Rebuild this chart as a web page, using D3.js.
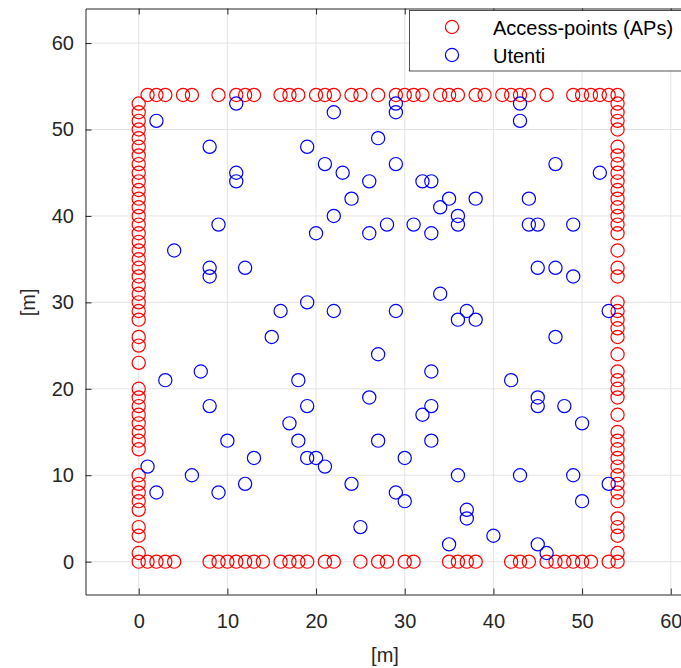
<!DOCTYPE html>
<html>
<head>
<meta charset="utf-8">
<script src="https://cdn.jsdelivr.net/npm/d3@7"></script>
<style>
  html, body { margin: 0; padding: 0; background: #ffffff; }
  svg { display: block; }
  text { font-family: "Liberation Sans", Arial, Helvetica, sans-serif; }
</style>
</head>
<body>
<script>
// Access points placed on the perimeter of the 54 m x 54 m area
const apTopX = [1, 2, 3, 5, 6, 9, 11, 12, 13, 16, 17, 18, 20, 21, 22, 24, 25, 27, 29, 30, 31, 32, 34, 35, 36, 38, 39, 41, 42, 43, 44, 46, 49, 50, 51, 52, 53, 54];
const apBottomX = [0, 1, 2, 3, 4, 8, 9, 10, 11, 12, 13, 14, 16, 17, 18, 19, 21, 22, 25, 27, 28, 30, 31, 35, 36, 37, 38, 42, 43, 44, 46, 47, 48, 49, 50, 51, 53, 54];
const apLeftY = [1, 3, 4, 6, 7, 8, 9, 10, 13, 14, 15, 16, 17, 18, 19, 20, 23, 25, 26, 28, 29, 30, 31, 32, 33, 34, 35, 36, 37, 38, 39, 40, 41, 42, 43, 44, 45, 46, 47, 48, 49, 50, 51, 52, 53];
const apRightY = [1, 3, 4, 5, 7, 8, 9, 10, 11, 12, 13, 14, 15, 17, 19, 20, 21, 22, 24, 26, 27, 28, 29, 30, 33, 34, 36, 38, 39, 40, 41, 42, 43, 44, 45, 46, 47, 48, 50, 51, 52, 53];
const sideLength = 54;

// Users (Utenti) inside the area
const userX = [2, 11, 22, 29, 29, 43, 43, 8, 19, 27, 21, 23, 26, 29, 47, 52, 11, 11, 32, 33,
               24, 22, 20, 26, 28, 31, 33, 34, 35, 36, 36, 38, 44, 44, 45, 49, 9, 4, 8, 8,
               12, 45, 47, 49, 34, 19, 16, 22, 29, 37, 36, 38, 53, 15, 47, 27, 7, 33, 3, 18,
               42, 26, 45, 8, 19, 33, 45, 48, 32, 17, 50, 10, 18, 27, 33, 13, 19, 20, 30, 1,
               21, 6, 36, 43, 49, 12, 24, 53, 2, 9, 29, 30, 50, 37, 37, 25, 40, 35, 45, 46];
const userY = [51, 53, 52, 53, 52, 53, 51, 48, 48, 49, 46, 45, 44, 46, 46, 45, 45, 44, 44, 44,
               42, 40, 38, 38, 39, 39, 38, 41, 42, 40, 39, 42, 42, 39, 39, 39, 39, 36, 34, 33,
               34, 34, 34, 33, 31, 30, 29, 29, 29, 29, 28, 28, 29, 26, 26, 24, 22, 22, 21, 21,
               21, 19, 19, 18, 18, 18, 18, 18, 17, 16, 16, 14, 14, 14, 14, 12, 12, 12, 12, 11,
               11, 10, 10, 10, 10, 9, 9, 9, 8, 8, 8, 7, 7, 6, 5, 4, 3, 2, 2, 1];

const xTicks = [0, 10, 20, 30, 40, 50, 60];
const yTicks = [0, 10, 20, 30, 40, 50, 60];
const seriesNames = ["Access-points (APs)", "Utenti"];
const axisLabel = "[m]";

const W = 681, H = 668;
const axisColor = "#262626";
const gridColor = "#e3e3e3";
const apColor = "#ff0000";
const userColor = "#0000ff";
const markerR = 6.6;

const plotLeft = 85.5, plotRight = 688.5, plotTop = 8.5, plotBottom = 594.5;
const x = d3.scaleLinear().domain([-6, 62]).range([plotLeft, plotRight]);
const y = d3.scaleLinear().domain([-3.8, 64]).range([plotBottom, plotTop]);

const svg = d3.select("body").append("svg")
  .attr("width", W).attr("height", H)
  .attr("viewBox", `0 0 ${W} ${H}`);

svg.append("rect").attr("width", W).attr("height", H).attr("fill", "#ffffff");

// grid
const grid = svg.append("g");
grid.selectAll("line.gx").data(xTicks).join("line")
  .attr("class", "gx")
  .attr("x1", d => x(d)).attr("x2", d => x(d))
  .attr("y1", plotTop).attr("y2", plotBottom)
  .attr("stroke", gridColor).attr("stroke-width", 1);
grid.selectAll("line.gy").data(yTicks).join("line")
  .attr("class", "gy")
  .attr("y1", d => y(d)).attr("y2", d => y(d))
  .attr("x1", plotLeft).attr("x2", plotRight)
  .attr("stroke", gridColor).attr("stroke-width", 1);

// axes with inward ticks on all four sides
function styleAxis(g, showLabels) {
  g.select(".domain").attr("stroke", axisColor).attr("stroke-width", 1);
  g.selectAll(".tick line").attr("stroke", axisColor).attr("stroke-width", 1);
  g.selectAll(".tick text")
    .attr("fill", axisColor)
    .style("font-size", "20px")
    .style("font-family", '"Liberation Sans", Arial, sans-serif')
    .attr("display", showLabels ? null : "none");
}

svg.append("g").attr("transform", `translate(0,${plotBottom})`)
  .call(d3.axisBottom(x).tickValues(xTicks).tickSizeInner(-6).tickSizeOuter(0).tickPadding(19).tickFormat(d3.format("d")))
  .call(g => styleAxis(g, true));
svg.append("g").attr("transform", `translate(0,${plotTop})`)
  .call(d3.axisTop(x).tickValues(xTicks).tickSizeInner(-6).tickSizeOuter(0))
  .call(g => styleAxis(g, false));
svg.append("g").attr("transform", `translate(${plotLeft},0)`)
  .call(d3.axisLeft(y).tickValues(yTicks).tickSizeInner(-6).tickSizeOuter(0).tickPadding(11.5).tickFormat(d3.format("d")))
  .call(g => styleAxis(g, true));
svg.append("g").attr("transform", `translate(${plotRight},0)`)
  .call(d3.axisRight(y).tickValues(yTicks).tickSizeInner(-6).tickSizeOuter(0))
  .call(g => styleAxis(g, false));

// axis titles
svg.append("text")
  .attr("x", (x(-6) + x(62)) / 2 - 2).attr("y", 662)
  .attr("text-anchor", "middle")
  .attr("fill", axisColor).style("font-size", "20px")
  .text(axisLabel);
svg.append("text")
  .attr("transform", `translate(35,${y(30)}) rotate(-90)`)
  .attr("text-anchor", "middle")
  .attr("fill", axisColor).style("font-size", "20px")
  .text(axisLabel);

// access point markers
const apPoints = [
  ...apTopX.map(v => ({ px: v, py: sideLength })),
  ...apBottomX.map(v => ({ px: v, py: 0 })),
  ...apLeftY.map(v => ({ px: 0, py: v })),
  ...apRightY.map(v => ({ px: sideLength, py: v }))
];
svg.append("g").selectAll("circle").data(apPoints).join("circle")
  .attr("cx", d => x(d.px)).attr("cy", d => y(d.py)).attr("r", markerR)
  .attr("fill", "none").attr("stroke", apColor).attr("stroke-width", 1.2);

// user markers
const users = userX.map((v, i) => ({ px: v, py: userY[i] }));
svg.append("g").selectAll("circle").data(users).join("circle")
  .attr("cx", d => x(d.px)).attr("cy", d => y(d.py)).attr("r", markerR)
  .attr("fill", "none").attr("stroke", userColor).attr("stroke-width", 1.2);

// legend
const legend = svg.append("g");
legend.append("rect")
  .attr("x", 409.5).attr("y", 10.5).attr("width", 290).attr("height", 60.5)
  .attr("fill", "#ffffff").attr("stroke", axisColor).attr("stroke-width", 0.8);
const legendRows = [
  { name: seriesNames[0], color: apColor, cy: 27 },
  { name: seriesNames[1], color: userColor, cy: 55 }
];
legendRows.forEach(r => {
  legend.append("circle")
    .attr("cx", 452).attr("cy", r.cy).attr("r", markerR)
    .attr("fill", "none").attr("stroke", r.color).attr("stroke-width", 1.2);
  legend.append("text")
    .attr("x", 493).attr("y", r.cy + 7.5)
    .attr("fill", "#000000").style("font-size", "20px")
    .text(r.name);
});
</script>
</body>
</html>
